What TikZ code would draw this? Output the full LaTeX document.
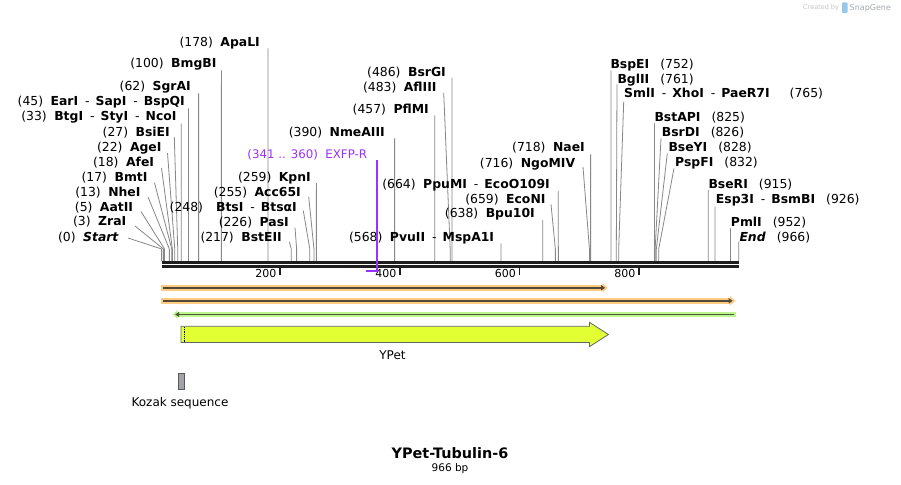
\documentclass[tikz,border=0pt]{standalone}
\usepackage{fontspec}
\setmainfont{DejaVu Sans}
\usetikzlibrary{calc,arrows.meta}
\definecolor{cutgray}{RGB}{135,135,135}
\definecolor{bbone}{RGB}{30,30,30}
\definecolor{orangeband}{RGB}{253,204,128}
\definecolor{greenband}{RGB}{190,245,140}
\definecolor{darkline}{RGB}{85,72,58}
\definecolor{darkgline}{RGB}{72,88,60}
\definecolor{ypetfill}{RGB}{226,255,51}
\definecolor{primer}{RGB}{155,48,255}
\definecolor{kozakfill}{RGB}{160,164,170}
\definecolor{sgtext}{RGB}{195,195,195}
\definecolor{sgname}{RGB}{165,170,175}
\definecolor{sgblue}{RGB}{150,200,235}
\newcommand\g{\hspace{7.5pt}}
\newcommand\rg{\hspace{11pt}}
\newcommand\sepd{\hspace{7pt}-\hspace{6pt}}
\newcommand\B[1]{\textbf{#1}}
\tikzset{
  lbl/.style={inner sep=0pt, font=\fontsize{12.4}{14}\selectfont},
  cut/.style={draw=cutgray, line width=0.8pt},
}
% id, anchor, x, ycenter, text, bp, leader start
\newcommand\enz[7]{%
  \node[lbl,anchor=base #2] (#1) at (#3,#4+4.5) {#5};
  \coordinate (#1s) at (#7);
  \coordinate (#1b) at ({161.6+0.5975*#6},249);
  \coordinate (#1c) at ({161.6+0.5975*#6},261);
  \draw[cut] (#1s) -- (#1b) -- (#1c);
}
\begin{document}
\begin{tikzpicture}[x=1pt,y=-1pt]
\fill[white] (0,0) rectangle (901,484);
\useasboundingbox (0,0) rectangle (901,484);

% SnapGene credit
\node[inner sep=0pt, anchor=base west, text=sgtext, font=\fontsize{6.5}{8}\selectfont] (cr) at (803,10) {Created by};
\fill[sgblue, rounded corners=0.8pt] (842,2.5) rectangle (847.5,13);
\node[inner sep=0pt, anchor=base west, text=sgname, font=\fontsize{8}{9}\selectfont] (sg) at (849.5,10.5) {SnapGene};

% enzymes, left side
\enz{st}{east}{119}{237}{(0)\g\textbf{\textit{Start}}}{0}{128,238}
\enz{zra}{east}{126.5}{221}{(3)\g\B{ZraI}}{3}{135,226}
\enz{aat}{east}{133.3}{206.5}{(5)\g\B{AatII}}{5}{141,211.5}
\enz{nhe}{east}{140.7}{191.5}{(13)\g\B{NheI}}{13}{148,197}
\enz{bmt}{east}{147.7}{176.5}{(17)\g\B{BmtI}}{17}{154.5,182.7}
\enz{afe}{east}{154.3}{161.5}{(18)\g\B{AfeI}}{18}{161.5,168}
\enz{age}{east}{161.7}{146.5}{(22)\g\B{AgeI}}{22}{167.5,153}
\enz{bsie}{east}{170}{131.5}{(27)\g\B{BsiEI}}{27}{174.3,137}
\enz{btg}{east}{176.7}{116.5}{(33)\g\B{BtgI}\sepd\B{StyI}\sepd\B{NcoI}}{33}{181.3,123.5}
\enz{ear}{east}{185}{101.5}{(45)\g\B{EarI}\sepd\B{SapI}\sepd\B{BspQI}}{45}{188.5,108.5}
\enz{sgr}{east}{191}{86.5}{(62)\g\B{SgrAI}}{62}{198.6,93.5}
\enz{bmg}{east}{216.7}{63.5}{(100)\g\B{BmgBI}}{100}{221.4,70.5}
\enz{apa}{east}{260}{41.7}{(178)\g\B{ApaLI}}{178}{268,48.5}

% middle
\enz{kpn}{east}{311}{176.5}{(259)\g\B{KpnI}}{259}{316.4,183}
\enz{acc}{east}{301}{191.5}{(255)\g\B{Acc65I}}{255}{308.7,196.7}
\enz{bts}{east}{297}{206.5}{(248)\hspace{13pt}\B{BtsI}\sepd\B{BtsαI}}{248}{303.3,210.7}
\enz{pas}{east}{289}{221.5}{(226)\g\B{PasI}}{226}{295,227.7}
\enz{bste}{east}{282}{237}{(217)\g\B{BstEII}}{217}{289.3,241.7}
\enz{nme}{east}{385}{132.3}{(390)\g\B{NmeAIII}}{390}{394.6,138.3}
\enz{pfl}{east}{429}{109.3}{(457)\g\B{PflMI}}{457}{434.7,115.3}
\enz{afl}{east}{436.7}{86.7}{(483)\g\B{AflIII}}{483}{443.7,92.7}
\enz{bsrg}{east}{446}{72.3}{(486)\g\B{BsrGI}}{486}{452,78}
\enz{pvu}{east}{494.3}{236.7}{(568)\g\B{PvuII}\sepd\B{MspA1I}}{568}{501,243.3}
\enz{bpu}{east}{535}{213.3}{(638)\g\B{Bpu10I}}{638}{542.8,220}
\enz{econ}{east}{545.7}{198.7}{(659)\g\B{EcoNI}}{659}{551,204.3}
\enz{ppu}{east}{550}{184}{(664)\g\B{PpuMI}\sepd\B{EcoO109I}}{664}{558.3,191}
\enz{ngo}{east}{575.3}{162.5}{(716)\g\B{NgoMIV}}{716}{583,167}
\enz{nae}{east}{585}{146.7}{(718)\g\B{NaeI}}{718}{590.6,154.3}

% right side
\enz{bspe}{west}{610.3}{64.3}{\B{BspEI}\rg(752)}{752}{610.9,70.5}
\enz{bgl}{west}{617.3}{79.3}{\B{BglII}\rg(761)}{761}{617,84.3}
\enz{sml}{west}{624}{93.3}{\B{SmlI}\sepd\B{XhoI}\sepd\B{PaeR7I}\hspace{20pt}(765)}{765}{623.7,101.7}
\enz{bstap}{west}{654.3}{116.7}{\B{BstAPI}\rg(825)}{825}{654.5,123.3}
\enz{bsrd}{west}{661.7}{131.7}{\B{BsrDI}\rg(826)}{826}{661,138.3}
\enz{bsey}{west}{668.3}{146.7}{\B{BseYI}\rg(828)}{828}{667.3,153.3}
\enz{pspf}{west}{675}{161.7}{\B{PspFI}\rg(832)}{832}{674,168.3}
\enz{bser}{west}{708.3}{184}{\B{BseRI}\rg(915)}{915}{708.3,190}
\enz{esp}{west}{715.7}{199.3}{\B{Esp3I}\sepd\B{BsmBI}\rg(926)}{926}{714.9,206.7}
\enz{pml}{west}{730.7}{221.7}{\B{PmlI}\rg(952)}{952}{730.4,228.3}
\enz{fin}{west}{739.3}{237.3}{\textbf{\textit{End}}\rg(966)}{966}{738.8,241.7}

% backbone
\coordinate (bbL1) at (161.6,262.5);
\coordinate (bbR1) at (738.8,262.5);
\coordinate (bbL2) at (161.6,266.4);
\coordinate (bbR2) at (738.8,266.4);
\draw[bbone, line width=3pt] (bbL1) -- (bbR1);
\draw[bbone, line width=2.4pt] (bbL2) -- (bbR2);

% ticks
\foreach \tx/\tl in {280/200,400/400,519.5/600,639/800}{
  \draw[bbone, line width=1.4pt] (\tx,267) -- (\tx,275);
  \node[inner sep=0pt, anchor=base east, font=\fontsize{11}{12}\selectfont] (t\tl) at (\tx-3.5,277.5) {\tl};
}

% primer EXFP-R
\node[inner sep=0pt, font=\fontsize{11.8}{13}\selectfont, anchor=base east, text=primer] (exfp) at (367.3,158.3) {(341 .. 360)\g EXFP-R};
\coordinate (prA) at (365.5,270.8);
\coordinate (prB) at (377,270.8);
\coordinate (prT) at (377,160);
\draw[primer, line width=1.8pt] (prA) -- (prB) -- (prT);

% feature rows
\coordinate (o1s) at (161,287.8);
\coordinate (o1e) at (607.6,287.8);
\draw[orangeband, line width=5.8pt, -{Triangle[length=5pt,width=9pt]}] (o1s) -- (o1e);
\draw[darkline, line width=1.7pt, -{Triangle[length=4pt,width=5pt]}] ($(o1s)+(1.5,0)$) -- ($(o1e)+(-2.5,0)$);

\coordinate (o2s) at (161,300.8);
\coordinate (o2e) at (735.2,300.8);
\draw[orangeband, line width=5.8pt, -{Triangle[length=5pt,width=9pt]}] (o2s) -- (o2e);
\draw[darkline, line width=1.7pt, -{Triangle[length=4pt,width=5pt]}] ($(o2s)+(1.5,0)$) -- ($(o2e)+(-2.5,0)$);

\coordinate (g1s) at (735.6,314.5);
\coordinate (g1e) at (172.7,314.5);
\draw[greenband, line width=5.8pt, -{Triangle[length=5pt,width=9pt]}] (g1s) -- (g1e);
\draw[darkgline, line width=1.7pt, -{Triangle[length=4pt,width=5pt]}] ($(g1s)+(-1.5,0)$) -- ($(g1e)+(2.5,0)$);

% YPet feature
\draw[fill=ypetfill, draw=black!60, line width=0.8pt]
  (181,326.3) -- (589.4,326.3) -- (589.4,322.3) -- (608.4,334.5) -- (589.4,346.7) -- (589.4,342.5) -- (181,342.5) -- cycle;
\draw[black, line width=0.9pt, dash pattern=on 0.9pt off 0.9pt] (184,327) -- (184,342);
\node[inner sep=0pt, font=\fontsize{12}{14}\selectfont] (ypet) at (392.5,355.5) {YPet};

% Kozak
\node[draw=black!65, fill=kozakfill, line width=0.8pt, minimum width=6.4pt, minimum height=16pt, inner sep=0pt] (koz) at (181.5,381.3) {};
\node[inner sep=0pt, font=\fontsize{12}{14}\selectfont] (kozl) at (180,403) {Kozak sequence};

% title
\node[inner sep=0pt, font=\bfseries\fontsize{14.4}{16}\selectfont] (title) at (450,453.3) {YPet-Tubulin-6};
\node[inner sep=0pt, font=\fontsize{10.5}{12}\selectfont] (size) at (450,468.3) {966 bp};
\end{tikzpicture}
\end{document}
